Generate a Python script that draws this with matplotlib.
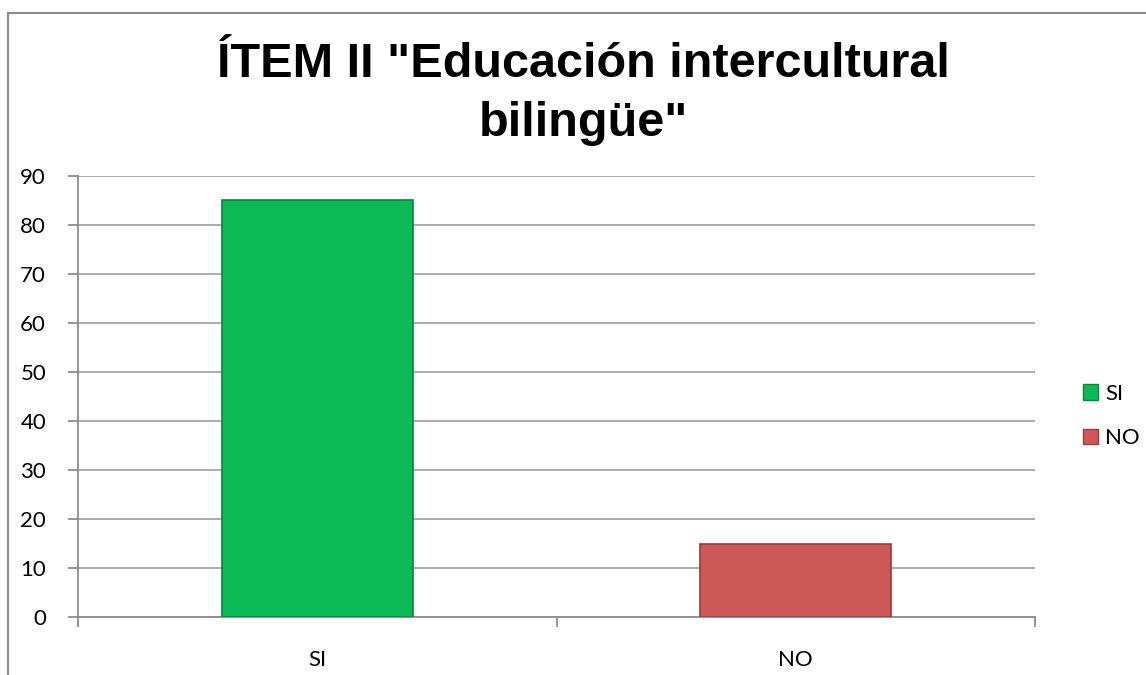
import matplotlib
matplotlib.use("Agg")
import matplotlib.pyplot as plt
from matplotlib.lines import Line2D
from matplotlib.patches import Rectangle

categories = ["SI", "NO"]
values = [85, 15]
colors = ["#0BB956", "#CD5857"]
edge_colors = ["#07863D", "#9A3B3A"]
yticks = [0, 10, 20, 30, 40, 50, 60, 70, 80, 90]
title = 'ÍTEM II "Educación intercultural\nbilingüe"'

W, H = 1146, 675
fig = plt.figure(figsize=(W / 100, H / 100), dpi=100)
fig.patch.set_facecolor("white")

# outer chart border (left and top visible)
fig.add_artist(Line2D([8 / W, 8 / W], [0, 1 - 13 / H], color="#8C8C8C", lw=1.5))
fig.add_artist(Line2D([8 / W, 1], [1 - 13 / H, 1 - 13 / H], color="#8C8C8C", lw=1.5))

ax = fig.add_axes([78 / W, (H - 617) / H, (1035 - 78) / W, (617 - 176) / H])
x = list(range(len(categories)))
bars = ax.bar(x, values, width=0.4, color=colors, edgecolor=edge_colors, linewidth=1.2, zorder=3)

ax.set_xlim(-0.5, len(categories) - 0.5)
ax.set_ylim(0, 90)
ax.set_yticks(yticks)
ax.yaxis.grid(True, color="#A6A6A6", linewidth=1.3, zorder=0)
ax.set_axisbelow(True)

tick_font = dict(family="Lato", size=16)
ax.set_yticklabels([str(t) for t in yticks], **tick_font)
ax.set_xticks(x)
ax.set_xticklabels(categories, **tick_font)
ax.tick_params(axis="x", which="major", length=0, pad=24)
ax.set_xticks([i - 0.5 for i in range(len(categories) + 1)], minor=True)
ax.tick_params(axis="x", which="minor", length=7, width=1.3, color="#8C8C8C", direction="out")
ax.tick_params(axis="y", length=7, width=1.3, color="#8C8C8C", pad=16, direction="out")

for s in ["top", "right"]:
    ax.spines[s].set_visible(False)
for s in ["left", "bottom"]:
    ax.spines[s].set_color("#8C8C8C")
    ax.spines[s].set_linewidth(1.3)

fig.text(583 / W, 1 - 94 / H, title, ha="center", va="center", family="Liberation Sans",
         weight="bold", size=35, linespacing=1.42)

handles = [Rectangle((0, 0), 1, 1, facecolor=c, edgecolor=e, lw=1.0) for c, e in zip(colors, edge_colors)]
leg = fig.legend(handles, categories, loc="center left", bbox_to_anchor=(1074 / W, 1 - 416 / H),
                 frameon=False, prop=dict(family="Lato", size=16), handlelength=0.7, handleheight=0.7,
                 handletextpad=0.3, labelspacing=1.1, borderaxespad=0)

fig.savefig("out.png", dpi=100, facecolor="white")
